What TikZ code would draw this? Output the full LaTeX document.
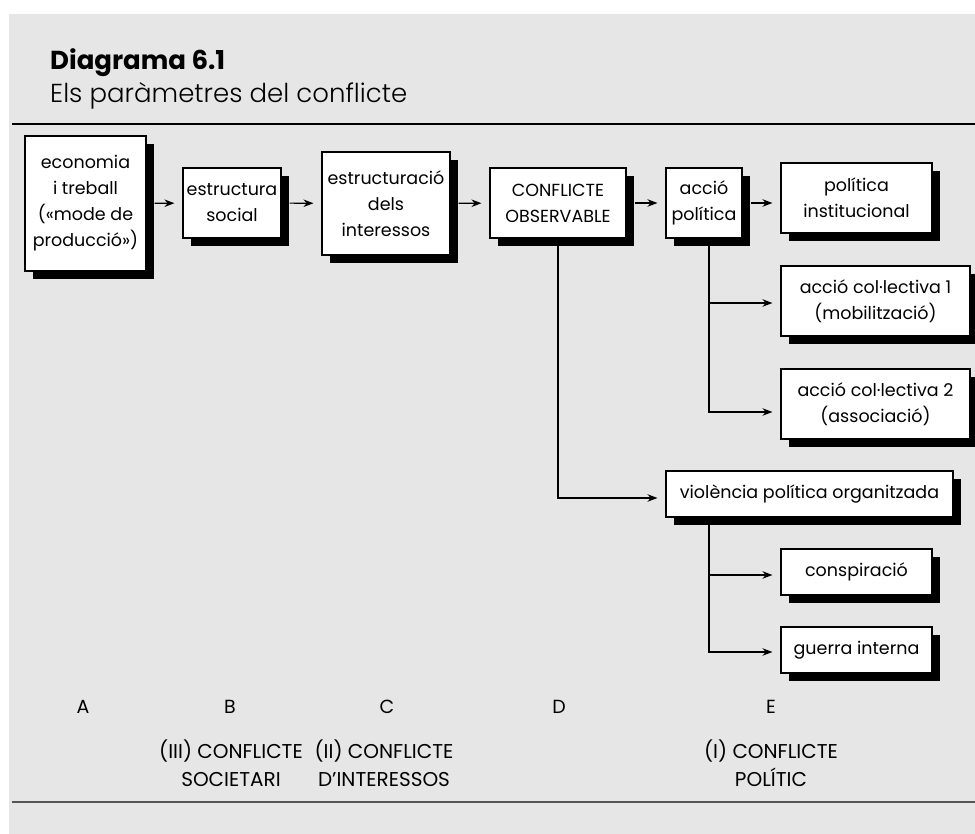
\documentclass[tikz,border=0pt]{standalone}
\usepackage{fontspec}
\setmainfont{Poppins}
\newfontfamily\lightfont{Poppins Light}
\usetikzlibrary{arrows.meta,shadows}
\definecolor{panelgrey}{RGB}{230,230,230}
\definecolor{rulegrey}{RGB}{85,85,85}
\begin{document}
\begin{tikzpicture}[x=1pt,y=-1pt,
    box/.style 2 args={draw,fill=white,line width=1.1pt,inner sep=0pt,align=center,
      minimum width=#1,minimum height=#2,font=\fontsize{17.5}{26}\selectfont,
      drop shadow={shadow xshift=8pt,shadow yshift=-8pt,opacity=1,fill=black}},
    lbl/.style={align=center,font=\fontsize{20}{28}\selectfont},
    letter/.style={anchor=base,font=\fontsize{19}{19}\selectfont},
    arr/.style={-{Stealth[length=10pt,width=7.5pt]},line width=1.1pt,shorten >=8pt}]
  \useasboundingbox (0,0) rectangle (975,834);
  \fill[panelgrey] (9,14) rectangle (975,834);
  \node[anchor=base west,inner sep=0pt,font=\bfseries\fontsize{26}{26}\selectfont] (title) at (50,70) {Diagrama 6.1};
  \node[anchor=base west,inner sep=0pt,font=\lightfont\fontsize{26}{26}\selectfont] (subtitle) at (50,103) {Els paràmetres del conflicte};
  \draw[line width=1.5pt] (12,124) -- (975,124);
  \draw[rulegrey,line width=2pt] (12,802) -- (975,802);
  \draw
    (85.5,203.5) node[box={121}{135}] (eco){economia\\i treball\\(«mode de\\producció»)}
    (232,203) node[box={98}{70}] (est){estructura\\social}
    (386,203.5) node[box={128}{103}] (estr){estructuració\\dels\\interessos}
    (558,203) node[box={136}{70}] (conf){CONFLICTE\\OBSERVABLE}
    (704,203) node[box={76}{70}] (acc){acció\\política}
    (856.5,198) node[box={151}{70}] (pol){política\\institucional}
    (875.5,301) node[box={189}{70}] (ac1){acció col·lectiva 1\\(mobilització)}
    (875.5,404) node[box={189}{70}] (ac2){acció col·lectiva 2\\(associació)}
    (809.5,494) node[box={287}{46}] (vio){violència política organitzada}
    (856.5,572) node[box={151}{46}] (consp){conspiració}
    (856.5,650) node[box={151}{46}] (guer){guerra interna};
  \draw
    (83,713) node[letter] (a){A}
    (230,713) node[letter] (b){B}
    (387,713) node[letter] (c){C}
    (559,713) node[letter] (d){D}
    (771,713) node[letter] (e){E}
    (231,763) node[lbl] (soc){(III) CONFLICTE\\SOCIETARI}
    (384,763) node[lbl] (int){(II) CONFLICTE\\D’INTERESSOS}
    (771,763) node[lbl] (polc){(I) CONFLICTE\\POLÍTIC};
  \begin{scope}[arr]
    \draw[shorten <=8pt] (eco) to (est);
    \draw[shorten <=8pt] (est) to (estr);
    \draw[shorten <=8pt] (estr) to (conf);
    \draw[shorten <=8pt] (conf) to (acc);
    \draw[shorten <=8pt] (acc.east) to (acc.east -| pol.west);
    \draw ([xshift=5pt]acc.south) |- ([yshift=-2pt]ac1.west);
    \draw ([xshift=5pt]acc.south) |- ([yshift=-8pt]ac2.west);
    \draw (conf.south) |- ([yshift=-4pt]vio.west);
    \draw ([xshift=-100.5pt]vio.south) |- ([yshift=-3pt]consp.west);
    \draw ([xshift=-100.5pt]vio.south) |- ([yshift=-2pt]guer.west);
  \end{scope}
\end{tikzpicture}
\end{document}
